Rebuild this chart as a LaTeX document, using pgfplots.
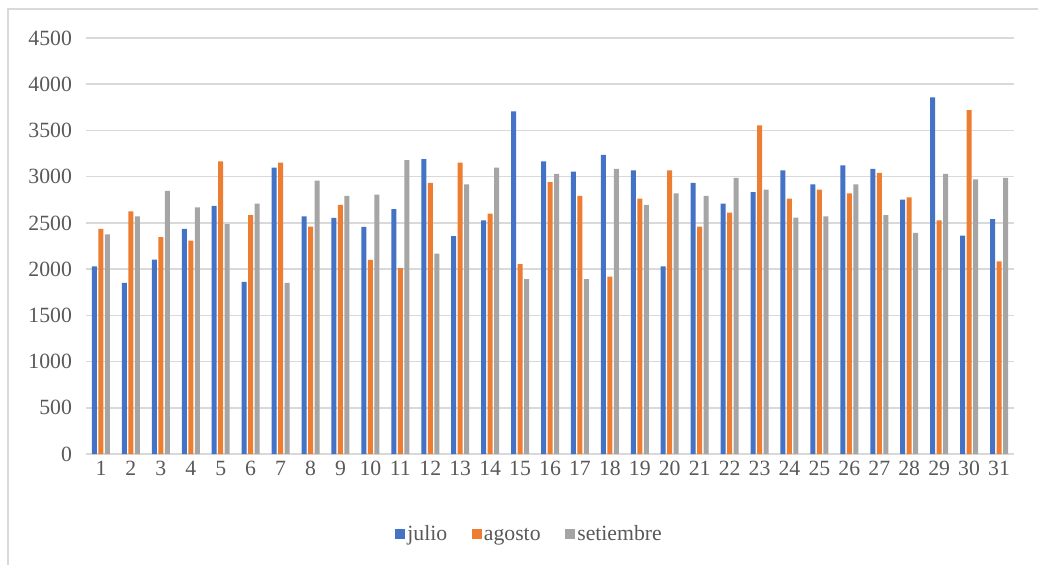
\documentclass[border=0pt]{standalone}
\usepackage{pgfplots}
\pgfplotsset{compat=1.18}
\usepackage{fontspec}
\setmainfont{Liberation Serif}
\definecolor{cblue}{HTML}{4472C4}
\definecolor{corange}{HTML}{ED7D31}
\definecolor{cgray}{HTML}{A5A5A5}
\definecolor{ctext}{HTML}{595959}
\definecolor{cgrid}{HTML}{D9D9D9}
\begin{document}
\begin{tikzpicture}
\path[use as bounding box] (0,0) rectangle (778.5pt,423.75pt);
\draw[cgrid, line width=1.2pt] (6pt,0) -- (6pt,417pt) -- (790pt,417pt);
\begin{axis}[
  at={(64.5pt,83.25pt)}, anchor=south west,
  scale only axis, width=696pt, height=312pt,
  ybar=1.125pt, bar width=3.75pt,
  xmin=0.5, xmax=31.5, ymin=0, ymax=4500,
  xtick={1,...,31}, ytick={0,500,...,4500},
  axis x line*=bottom, axis y line*=left,
  x axis line style={cgrid, line width=1.1pt},
  y axis line style={draw=none},
  ymajorgrids, grid style={cgrid, line width=1.1pt},
  major tick length=0pt,
  /pgf/number format/assume math mode=true,
  /pgf/number format/1000 sep={},
  tick label style={font=\fontsize{16.3}{19}\selectfont, text=ctext},
  yticklabel style={xshift=-7pt},
  xticklabel style={yshift=-2pt},
  legend style={at={(0.478,-0.2)}, anchor=center, draw=none, fill=none,
    legend columns=3, font=\fontsize{16.3}{19}\selectfont, text=ctext,
    nodes={text height=0.7em, text depth=0.22em, inner xsep=1.5pt},
    /tikz/every even column/.append style={column sep=17pt}},
  legend image code/.code={\fill[#1] (0pt,-1.6pt) rectangle (7.5pt,5.9pt);},
  clip=false,
]
\addplot[fill=cblue, draw=none] coordinates {
(1,2030) (2,1850) (3,2102) (4,2434) (5,2683) (6,1861) (7,3098) (8,2571)
(9,2553) (10,2456) (11,2650) (12,3191) (13,2358) (14,2528) (15,3707) (16,3166)
(17,3054) (18,3235) (19,3069) (20,2030) (21,2932) (22,2708) (23,2834) (24,3069)
(25,2917) (26,3123) (27,3083) (28,2751) (29,3858) (30,2362) (31,2542)};
\addplot[fill=corange, draw=none] coordinates {
(1,2434) (2,2625) (3,2347) (4,2308) (5,3166) (6,2585) (7,3152) (8,2459)
(9,2694) (10,2099) (11,2012) (12,2932) (13,3152) (14,2600) (15,2055) (16,2942)
(17,2791) (18,1918) (19,2762) (20,3069) (21,2459) (22,2611) (23,3555) (24,2762)
(25,2860) (26,2820) (27,3040) (28,2777) (29,2528) (30,3721) (31,2084)};
\addplot[fill=cgray, draw=none] coordinates {
(1,2376) (2,2571) (3,2845) (4,2668) (5,2488) (6,2708) (7,1850) (8,2957)
(9,2791) (10,2805) (11,3180) (12,2167) (13,2917) (14,3098) (15,1893) (16,3029)
(17,1893) (18,3083) (19,2694) (20,2820) (21,2791) (22,2986) (23,2860) (24,2557)
(25,2571) (26,2917) (27,2585) (28,2391) (29,3029) (30,2971) (31,2986)};
\legend{julio,agosto,setiembre}
\end{axis}
\end{tikzpicture}
\end{document}
